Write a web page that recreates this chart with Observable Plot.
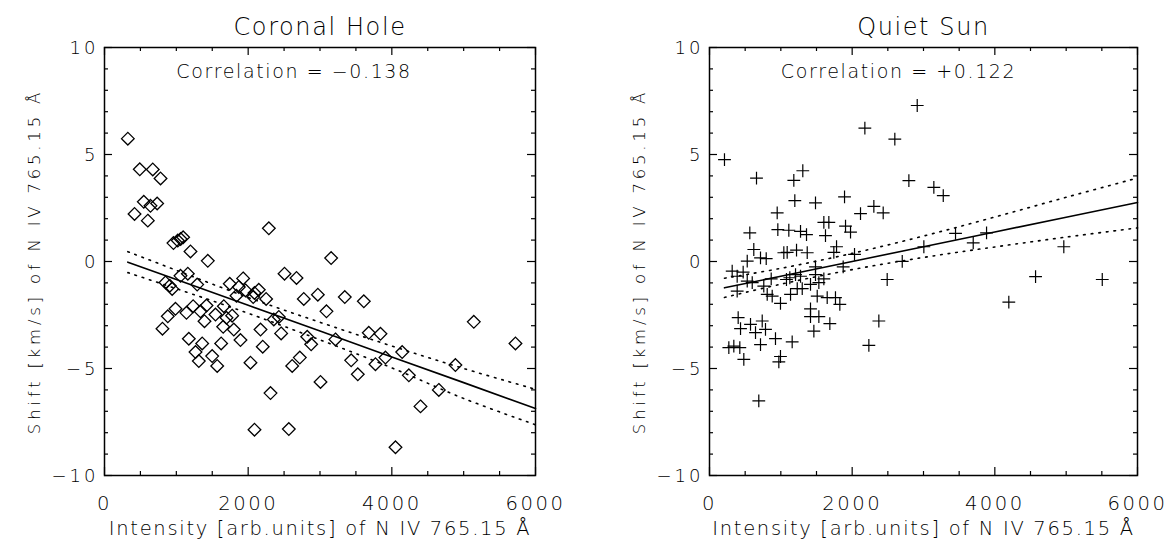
<!DOCTYPE html>
<html><head><meta charset="utf-8">
<script src="https://cdn.jsdelivr.net/npm/d3@7"></script>
<script src="https://cdn.jsdelivr.net/npm/@observablehq/plot@0.6"></script>
<style>
html,body{margin:0;padding:0;background:#fff;}
#wrap{display:flex;width:1167px;height:543px;overflow:hidden;}
svg{font-family:"DejaVu Sans",sans-serif;color:#000;}
g[font-size="24"] text{letter-spacing:1.6px;}
g[font-size="19"] text{letter-spacing:1.6px;}
g[font-size="19.5"] text{letter-spacing:1.7px;}
g[font-size="19.6"] text{letter-spacing:2.5px;}
g[font-size="18"] text{letter-spacing:3px;}
g[font-size="16.5"] text{letter-spacing:3.8px;}
</style></head><body><div id="wrap"></div>
<script>
// ---- text ----
const panelTitles = ["Coronal Hole", "Quiet Sun"];
const correlationLabels = ["Correlation = \u22120.138", "Correlation = +0.122"];
const correlationPos = [1000, 8.84]; // data coords of label start
const xLabel = "Intensity [arb.units] of N IV 765.15 \u00C5";
const yLabel = "Shift [km/s] of N IV 765.15 \u00C5";

// ---- ticks ----
const xMajorTicks = [0, 2000, 4000, 6000];
const xMinorTicks = [500, 1000, 1500, 2500, 3000, 3500, 4500, 5000, 5500];
const xTickLabels = ["0", "2000", "4000", "6000"];
const yMajorTicks = [-10, -5, 0, 5, 10];
const yMinorTicks = [-9, -8, -7, -6, -4, -3, -2, -1, 1, 2, 3, 4, 6, 7, 8, 9];
const yTickLabels = ["\u221210", "\u22125", "0", "5", "10"];

// ---- Coronal Hole data (diamonds) ----
const chX = [325, 491, 672, 780, 547, 640, 733, 418, 603, 2288,
  960, 1020, 1095, 1060, 1197, 1438, 1058, 1160, 849, 909,
  942, 1290, 1744, 1930, 1870, 1963, 2088, 2148, 2250, 1837,
  2070, 2506, 2673, 2774, 2970, 3155, 3090, 988, 881, 807,
  1141, 1234, 1336, 1420, 1392, 1545, 1661, 1698, 1777, 1652,
  1800, 2172, 2357, 2427, 2459, 1893, 1624, 1174, 1360, 1267,
  1313, 1499, 1569, 2203, 2032, 2311, 2088, 2566, 2822, 2877,
  2719, 2613, 3007, 3345, 3610, 3679, 3842, 3215, 3434, 3526,
  3772, 3911, 4144, 4237, 4654, 4399, 4885, 5141, 5721, 4051];
const chY = [5.74, 4.31, 4.30, 3.88, 2.79, 2.60, 2.71, 2.22, 1.91, 1.55,
  0.86, 0.98, 1.13, 1.05, 0.47, 0.03, -0.67, -0.57, -0.98, -1.13,
  -1.28, -1.08, -1.04, -0.79, -1.19, -1.35, -1.47, -1.32, -1.75, -1.60,
  -1.66, -0.57, -0.77, -1.75, -1.55, 0.16, -2.33, -2.21, -2.56, -3.14,
  -2.40, -2.09, -2.33, -2.06, -2.79, -2.48, -2.09, -2.63, -2.53, -3.05,
  -3.18, -3.18, -2.71, -2.59, -3.36, -3.67, -3.83, -3.61, -3.83, -4.23,
  -4.65, -4.42, -4.88, -3.98, -4.73, -6.15, -7.86, -7.83, -3.52, -3.87,
  -4.49, -4.88, -5.63, -1.66, -1.86, -3.33, -3.38, -3.64, -4.62, -5.27,
  -4.80, -4.49, -4.23, -5.32, -6.00, -6.77, -4.84, -2.82, -3.83, -8.68];
const chFitX = [325, 1000, 2000, 3000, 4000, 5000, 6000];
const chFit = [-0.03, -0.84, -2.05, -3.25, -4.46, -5.66, -6.87];
const chUpper = [0.46, -0.41, -1.68, -2.84, -3.95, -5.00, -5.97];
const chLower = [-0.52, -1.27, -2.42, -3.66, -4.97, -6.40, -7.63];

// ---- Quiet Sun data (crosses) ----
const qsX = [210, 659, 1182, 1308, 1196, 1486, 1893, 2178, 2598, 2912,
  2795, 949, 2117, 2304, 2435, 565, 958, 1112, 1276, 1360,
  1603, 1673, 1626, 1907, 1977, 621, 715, 795, 529, 1042,
  1089, 1220, 1370, 1781, 1743, 2033, 2702, 2491, 318, 472,
  388, 529, 599, 388, 865, 761, 809, 879, 995, 1079,
  1126, 1206, 1276, 1230, 1300, 1136, 1416, 1533, 1603, 1486,
  1486, 1510, 1650, 1766, 1827, 1874, 1416, 1416, 1533, 1687,
  1463, 402, 435, 575, 645, 739, 785, 715, 925, 1159,
  271, 341, 425, 481, 995, 972, 691, 2374, 2234, 3005,
  3145, 3277, 3449, 3884, 3697, 4967, 4571, 5506, 4196];
const qsY = [4.76, 3.90, 3.79, 4.24, 2.84, 2.74, 3.02, 6.23, 5.72, 7.29,
  3.78, 2.27, 2.24, 2.58, 2.27, 1.34, 1.49, 1.46, 1.41, 1.26,
  1.83, 1.83, 1.21, 1.65, 1.37, 0.56, 0.17, 0.13, 0.02, 0.41,
  0.43, 0.53, 0.41, 0.69, 0.43, 0.33, 0.01, -0.84, -0.45, -0.50,
  -0.69, -0.92, -0.99, -1.38, -0.81, -1.15, -1.54, -1.62, -1.96, -0.84,
  -0.76, -0.61, -0.69, -1.27, -1.27, -1.54, -1.07, -0.99, -0.81, -0.61,
  -0.25, -1.62, -1.69, -1.69, -2.00, -0.25, -2.21, -2.58, -2.58, -2.90,
  -3.25, -2.62, -3.14, -2.94, -3.32, -2.78, -3.17, -3.88, -3.60, -3.76,
  -4.02, -3.95, -4.02, -4.57, -4.44, -4.69, -6.51, -2.78, -3.92, 0.69,
  3.46, 3.08, 1.31, 1.34, 0.87, 0.69, -0.71, -0.84, -1.90];
const qsFitX = [210, 1000, 2000, 3000, 4000, 5000, 6000];
const qsFit = [-1.23, -0.69, 0.00, 0.69, 1.38, 2.07, 2.76];
const qsUpper = [-0.78, -0.32, 0.38, 1.19, 2.08, 3.00, 3.90];
const qsLower = [-1.68, -1.06, -0.38, 0.19, 0.68, 1.14, 1.57];

// ---- layout ----
const H = 543, MT = 47, MB = 68;
const FH = H - MT - MB;

function panel({width, marginLeft, marginRight, title, corr, px, py, symbol, r, sw, fx, fit, up, lo}) {
  const FW = width - marginLeft - marginRight;
  const idx = d3.range(px.length);
  const fidx = d3.range(fx.length);
  return Plot.plot({
    width, height: H, marginLeft, marginRight, marginTop: MT, marginBottom: MB,
    x: {domain: [0, 6000], axis: null},
    y: {domain: [-10, 10], axis: null},
    style: {fontFamily: "DejaVu Sans", background: "white", overflow: "visible"},
    marks: [
      // ticks (inward, all four sides)
      Plot.tickX(xMajorTicks, {x: d => d, insetTop: FH - 8, strokeWidth: 1.2}),
      Plot.tickX(xMinorTicks, {x: d => d, insetTop: FH - 4, strokeWidth: 1.2}),
      Plot.tickX(xMajorTicks, {x: d => d, insetBottom: FH - 8, strokeWidth: 1.2}),
      Plot.tickX(xMinorTicks, {x: d => d, insetBottom: FH - 4, strokeWidth: 1.2}),
      Plot.tickY(yMajorTicks, {y: d => d, insetRight: FW - 8, strokeWidth: 1.2}),
      Plot.tickY(yMinorTicks, {y: d => d, insetRight: FW - 4, strokeWidth: 1.2}),
      Plot.tickY(yMajorTicks, {y: d => d, insetLeft: FW - 8, strokeWidth: 1.2}),
      Plot.tickY(yMinorTicks, {y: d => d, insetLeft: FW - 4, strokeWidth: 1.2}),
      Plot.frame({stroke: "black", strokeWidth: 1.5}),
      // tick labels
      Plot.text(xMajorTicks, {x: d => d, text: (d, i) => xTickLabels[i], frameAnchor: "bottom", dy: 34, lineAnchor: "bottom", fontSize: 19.6, fontWeight: 300, dx: 0}),
      Plot.text(yMajorTicks, {y: d => d, text: (d, i) => yTickLabels[i], frameAnchor: "left", dx: -6, dy: 1, textAnchor: "end", lineAnchor: "middle", fontSize: 18, fontWeight: 300}),
      // axis labels
      Plot.text([xLabel], {frameAnchor: "bottom", dy: 59, lineAnchor: "bottom", fontSize: 19.5, fontWeight: 300}),
      Plot.text([yLabel], {frameAnchor: "left", dx: -65, rotate: -90, textAnchor: "middle", lineAnchor: "bottom", fontSize: 16.5, fontWeight: 300}),
      // title + correlation
      Plot.text([title], {frameAnchor: "top", dy: -13, lineAnchor: "bottom", fontSize: 24, fontWeight: 300}),
      Plot.text([corr], {x: () => correlationPos[0], y: () => correlationPos[1], textAnchor: "start", lineAnchor: "middle", fontSize: 19, fontWeight: 300}),
      // fit line and band
      Plot.line(fidx, {x: i => fx[i], y: i => fit[i], stroke: "black", strokeWidth: 1.6}),
      Plot.line(fidx, {x: i => fx[i], y: i => up[i], stroke: "black", strokeWidth: 1.6, strokeDasharray: "1.6,6", curve: "catmull-rom"}),
      Plot.line(fidx, {x: i => fx[i], y: i => lo[i], stroke: "black", strokeWidth: 1.6, strokeDasharray: "1.6,6", curve: "catmull-rom"}),
      // points
      Plot.dot(idx, {x: i => px[i], y: i => py[i], symbol, r, stroke: "black", strokeWidth: sw, fill: "none"})
    ]
  });
}

const wrap = document.getElementById("wrap");
wrap.appendChild(panel({width: 583, marginLeft: 104, marginRight: 48, title: panelTitles[0], corr: correlationLabels[0],
  px: chX, py: chY, symbol: "diamond2", r: 5.7, sw: 1.3, fx: chFitX, fit: chFit, up: chUpper, lo: chLower}));
wrap.appendChild(panel({width: 584, marginLeft: 126, marginRight: 30, title: panelTitles[1], corr: correlationLabels[1],
  px: qsX, py: qsY, symbol: "plus", r: 4.2, sw: 1.2, fx: qsFitX, fit: qsFit, up: qsUpper, lo: qsLower}));
</script></body></html>
